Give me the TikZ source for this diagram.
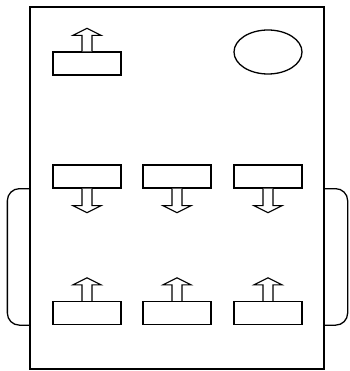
\documentclass[tikz,border=0pt]{standalone}
\usetikzlibrary{shapes.geometric}
\tikzset{
  box/.style={draw, line width=1.3pt, minimum width=68pt, minimum height=23pt, inner sep=0pt},
  blockarrow/.style={draw, line width=1.1pt, fill=white, line join=miter},
  frame/.style={draw, line width=1.3pt, minimum width=294pt, minimum height=362pt, inner sep=0pt},
  bracket/.style={draw, line width=1.3pt, rounded corners=12pt}
}
\newcommand{\uparrowat}[1]{\draw[blockarrow] ([xshift=-5pt]#1.north) -- ++(0,-16) -- ++(-9,0) -- ++(14,-7) -- ++(14,7) -- ++(-9,0) -- ++(0,16);}
\newcommand{\downarrowat}[1]{\draw[blockarrow] ([xshift=-5pt]#1.south) -- ++(0,17) -- ++(-9,0) -- ++(14,7) -- ++(14,-7) -- ++(-9,0) -- ++(0,-17);}
\begin{document}
\begin{tikzpicture}[x=1pt,y=-1pt]
\useasboundingbox (0,0) rectangle (349,371);
\node[frame] (outer) at (177,188) {};
\node[box] (t1) at (87,63.5) {};
\node[draw, ellipse, line width=1.3pt, minimum width=68pt, minimum height=44pt, inner sep=0pt] (ell) at (268,52) {};
\node[box] (m1) at (87,176.5) {};
\node[box] (m2) at (177,176.5) {};
\node[box] (m3) at (268,176.5) {};
\node[box] (b1) at (87,313) {};
\node[box] (b2) at (177,313) {};
\node[box] (b3) at (268,313) {};
\uparrowat{t1}
\downarrowat{m1}
\downarrowat{m2}
\downarrowat{m3}
\uparrowat{b1}
\uparrowat{b2}
\uparrowat{b3}
\draw[bracket] (outer.west |- m1.south) -- ++(-22,0) |- (outer.west |- b1.south);
\draw[bracket] (outer.east |- m3.south) -- ++(23,0) |- (outer.east |- b3.south);
\end{tikzpicture}
\end{document}
